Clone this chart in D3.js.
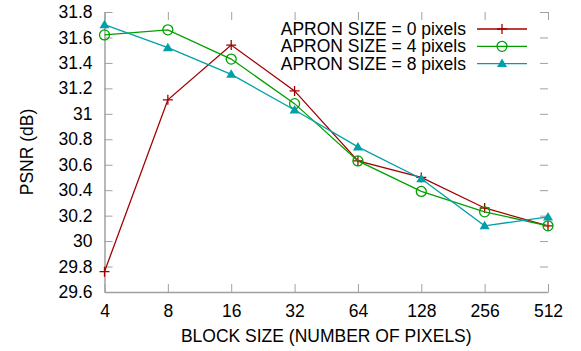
<!DOCTYPE html>
<html>
<head>
<meta charset="utf-8">
<script src="https://cdn.jsdelivr.net/npm/d3@7"></script>
<style>
  body { margin: 0; background: #fff; }
  svg { font-family: "Liberation Sans", Arial, sans-serif; }
</style>
</head>
<body>
<svg id="chart" width="581" height="351"></svg>
<script>
const blockSizes = [4, 8, 16, 32, 64, 128, 256, 512];
const apron0 = [29.76, 31.11, 31.54, 31.18, 30.63, 30.50, 30.26, 30.12];
const apron4 = [31.62, 31.66, 31.43, 31.08, 30.63, 30.39, 30.23, 30.12];
const apron8 = [31.70, 31.52, 31.31, 31.03, 30.74, 30.49, 30.12, 30.19];
const yTicks = [29.6, 29.8, 30, 30.2, 30.4, 30.6, 30.8, 31, 31.2, 31.4, 31.6, 31.8];

const series = [
    {name: "APRON SIZE = 0 pixels", values: apron0, color: "#a00000", marker: "plus"},
    {name: "APRON SIZE = 4 pixels", values: apron4, color: "#00a000", marker: "circle"},
    {name: "APRON SIZE = 8 pixels", values: apron8, color: "#00a0a8", marker: "triangle"}
];

const margin = {top: 12, right: 33, bottom: 59, left: 104.5};
const width = 581, height = 351;
const axisColor = "#a0a0a0";
const tickLen = 8;
const fontSize = "17.5px";

const svg = d3.select("#chart");

const x = d3.scaleLog().base(2)
    .domain([4, 512])
    .range([margin.left, width - margin.right]);

const y = d3.scaleLinear()
    .domain([29.6, 31.8])
    .range([height - margin.bottom, margin.top]);

// axes (left and bottom lines, ticks mirrored on all sides)
const fmt = d => String(+d.toFixed(1));

svg.append("g")
    .attr("transform", `translate(0,${y(29.6)})`)
    .call(d3.axisBottom(x).tickValues(blockSizes).tickFormat(d => d).tickSize(-tickLen).tickPadding(13).tickSizeOuter(0))
    .call(g => g.selectAll("line").attr("stroke", axisColor))
    .call(g => g.select(".domain").attr("stroke", axisColor).attr("stroke-width", 1.5))
    .call(g => g.selectAll("text").style("font-size", fontSize).attr("fill", "#000"));

svg.append("g")
    .attr("transform", `translate(${x(4)},0)`)
    .call(d3.axisLeft(y).tickValues(yTicks).tickFormat(fmt).tickSize(-tickLen).tickPadding(12).tickSizeOuter(0))
    .call(g => g.selectAll("line").attr("stroke", axisColor))
    .call(g => g.select(".domain").attr("stroke", axisColor).attr("stroke-width", 1.5))
    .call(g => g.selectAll("text").style("font-size", fontSize).attr("fill", "#000"));

svg.append("g")
    .attr("transform", `translate(0,${y(31.8)})`)
    .call(d3.axisTop(x).tickValues(blockSizes).tickFormat("").tickSize(-tickLen).tickSizeOuter(0))
    .call(g => g.selectAll("line").attr("stroke", axisColor))
    .call(g => g.select(".domain").remove());

svg.append("g")
    .attr("transform", `translate(${x(512)},0)`)
    .call(d3.axisRight(y).tickValues(yTicks).tickFormat("").tickSize(-tickLen).tickSizeOuter(0))
    .call(g => g.selectAll("line").attr("stroke", axisColor))
    .call(g => g.select(".domain").remove());

// axis titles
svg.append("text")
    .attr("x", (x(4) + x(512)) / 2)
    .attr("y", 342)
    .attr("text-anchor", "middle")
    .style("font-size", fontSize)
    .text("BLOCK SIZE (NUMBER OF PIXELS)");

svg.append("text")
    .attr("transform", `translate(33,${(y(29.6) + y(31.8)) / 2}) rotate(-90)`)
    .attr("text-anchor", "middle")
    .style("font-size", fontSize)
    .text("PSNR (dB)");

function drawMarker(g, type, color) {
    if (type === "plus") {
        g.append("path").attr("d", "M-5,0H5M0,-5V5")
            .attr("stroke", color).attr("stroke-width", 1.3).attr("fill", "none");
    } else if (type === "circle") {
        g.append("circle").attr("r", 5)
            .attr("stroke", color).attr("stroke-width", 1.3).attr("fill", "none");
    } else {
        g.append("path").attr("d", "M0,-5L5,3.5H-5Z").attr("fill", color);
    }
}

const line = d3.line()
    .x((d, i) => x(blockSizes[i]))
    .y(d => y(d));

series.forEach(s => {
    svg.append("path")
        .datum(s.values)
        .attr("fill", "none")
        .attr("stroke", s.color)
        .attr("stroke-width", 1.3)
        .attr("d", line);

    s.values.forEach((v, i) => {
        const g = svg.append("g").attr("transform", `translate(${x(blockSizes[i])},${y(v)})`);
        drawMarker(g, s.marker, s.color);
    });
});

// legend
const legend = svg.append("g");
series.forEach((s, i) => {
    const ly = 29 + i * 17.3;
    legend.append("text")
        .attr("x", 466)
        .attr("y", ly)
        .attr("dy", "0.35em")
        .attr("text-anchor", "end")
        .style("font-size", fontSize)
        .text(s.name);
    legend.append("line")
        .attr("x1", 477).attr("x2", 527)
        .attr("y1", ly).attr("y2", ly)
        .attr("stroke", s.color).attr("stroke-width", 1.3);
    const g = legend.append("g").attr("transform", `translate(502,${ly})`);
    drawMarker(g, s.marker, s.color);
});
</script>
</body>
</html>
